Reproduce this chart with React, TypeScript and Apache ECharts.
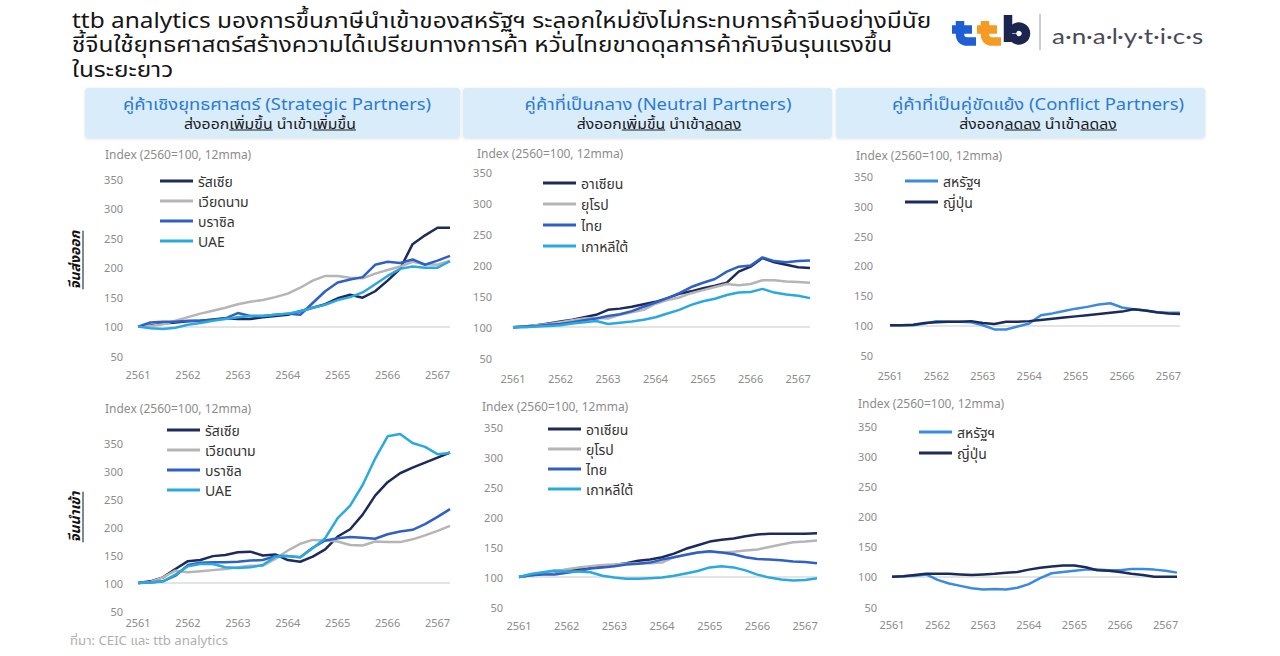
import React, { useEffect, useRef } from "react";
import * as echarts from "echarts";

// ---------- DATA ----------
const quarters = [
  "2561-Q1", "2561-Q2", "2561-Q3", "2561-Q4",
  "2562-Q1", "2562-Q2", "2562-Q3", "2562-Q4",
  "2563-Q1", "2563-Q2", "2563-Q3", "2563-Q4",
  "2564-Q1", "2564-Q2", "2564-Q3", "2564-Q4",
  "2565-Q1", "2565-Q2", "2565-Q3", "2565-Q4",
  "2566-Q1", "2566-Q2", "2566-Q3", "2566-Q4",
  "2567-Q1", "2567-Q2",
];

const strategicNames = ["รัสเซีย", "เวียดนาม", "บราซิล", "UAE"];
const neutralNames = ["อาเซียน", "ยุโรป", "ไทย", "เกาหลีใต้"];
const conflictNames = ["สหรัฐฯ", "ญี่ปุ่น"];

// China exports
const exportRussia = [100, 102, 105, 107, 109, 110, 112, 114, 113, 113, 116, 118, 120, 126, 132, 138, 148, 154, 149, 160, 178, 198, 240, 255, 268, 268];
const exportVietnam = [100, 101, 104, 110, 116, 122, 127, 132, 138, 142, 145, 150, 156, 166, 178, 186, 186, 183, 182, 190, 196, 202, 210, 206, 205, 212];
const exportBrazil = [100, 107, 108, 108, 110, 110, 111, 114, 123, 118, 118, 120, 122, 120, 140, 160, 175, 180, 184, 205, 210, 208, 214, 205, 212, 220];
const exportUAE = [100, 97, 96, 98, 103, 106, 110, 113, 116, 118, 118, 120, 122, 126, 132, 137, 145, 150, 158, 172, 186, 198, 202, 200, 200, 211];

const exportASEAN = [100, 101, 103, 106, 109, 112, 116, 120, 128, 130, 133, 137, 141, 147, 154, 158, 163, 167, 172, 190, 198, 212, 205, 201, 197, 196];
const exportEurope = [100, 101, 103, 105, 108, 111, 114, 115, 114, 120, 124, 128, 138, 144, 148, 155, 160, 165, 170, 168, 170, 176, 176, 174, 173, 172];
const exportThailand = [100, 101, 102, 104, 105, 108, 111, 114, 118, 121, 126, 133, 140, 147, 155, 165, 172, 178, 190, 198, 200, 213, 207, 205, 207, 208];
const exportKorea = [100, 100, 101, 102, 103, 106, 108, 110, 105, 107, 109, 112, 116, 122, 128, 136, 142, 146, 152, 156, 157, 162, 156, 153, 151, 147];

const exportUS = [100, 100, 100, 103, 107, 106, 106, 105, 100, 93, 93, 98, 103, 117, 120, 124, 128, 131, 135, 137, 130, 127, 125, 122, 121, 121];
const exportJapan = [100, 100, 101, 104, 105, 106, 106, 107, 104, 102, 106, 106, 107, 109, 111, 113, 115, 117, 119, 121, 123, 127, 125, 122, 120, 119];

// China imports
const importRussia = [100, 103, 110, 125, 139, 141, 148, 150, 155, 156, 149, 151, 141, 138, 147, 160, 183, 196, 222, 256, 280, 296, 306, 315, 324, 333];
const importVietnam = [100, 102, 110, 122, 119, 121, 123, 125, 128, 131, 131, 143, 158, 170, 177, 176, 174, 168, 167, 174, 173, 173, 178, 185, 193, 202];
const importBrazil = [100, 101, 103, 113, 132, 136, 137, 137, 138, 140, 141, 148, 148, 146, 163, 176, 180, 182, 181, 179, 187, 192, 195, 205, 218, 232];
const importUAE = [100, 101, 103, 115, 130, 134, 134, 128, 127, 128, 132, 147, 148, 146, 162, 180, 216, 238, 275, 322, 362, 366, 350, 343, 330, 332];

const importASEAN = [100, 103, 106, 109, 111, 113, 115, 118, 120, 123, 127, 129, 133, 139, 147, 153, 159, 162, 164, 168, 171, 172, 172, 172, 172, 173];
const importEurope = [100, 103, 106, 109, 113, 116, 118, 120, 121, 122, 123, 123, 124, 133, 137, 141, 142, 141, 142, 144, 146, 150, 154, 158, 159, 161];
const importThailand = [100, 103, 104, 104, 107, 110, 114, 116, 118, 121, 122, 124, 129, 133, 137, 141, 143, 141, 138, 133, 130, 129, 128, 126, 125, 123];
const importKorea = [100, 105, 108, 111, 109, 109, 108, 102, 99, 97, 97, 98, 99, 102, 106, 110, 116, 118, 116, 111, 104, 99, 96, 94, 95, 98];

const importUS = [100, 101, 102, 104, 95, 89, 85, 81, 79, 80, 79, 82, 88, 98, 106, 108, 110, 112, 112, 111, 111, 113, 113, 112, 110, 107];
const importJapan = [100, 101, 103, 105, 105, 105, 104, 103, 104, 105, 107, 108, 112, 115, 117, 119, 119, 116, 111, 110, 108, 105, 103, 100, 100, 100];

const titleLines = [
  "ttb analytics มองการขึ้นภาษีนำเข้าของสหรัฐฯ ระลอกใหม่ยังไม่กระทบการค้าจีนอย่างมีนัย",
  "ชี้จีนใช้ยุทธศาสตร์สร้างความได้เปรียบทางการค้า หวั่นไทยขาดดุลการค้ากับจีนรุนแรงขึ้น",
  "ในระยะยาว",
];
const headerTitles = [
  "คู่ค้าเชิงยุทธศาสตร์ (Strategic Partners)",
  "คู่ค้าที่เป็นกลาง (Neutral Partners)",
  "คู่ค้าที่เป็นคู่ขัดแย้ง (Conflict Partners)",
];
const headerSubs = [
  [["ส่งออก", false], ["เพิ่มขึ้น", true], [" นำเข้า", false], ["เพิ่มขึ้น", true]],
  [["ส่งออก", false], ["เพิ่มขึ้น", true], [" นำเข้า", false], ["ลดลง", true]],
  [["ส่งออก", false], ["ลดลง", true], [" นำเข้า", false], ["ลดลง", true]],
] as [string, boolean][][];
const indexLabel = "Index (2560=100, 12mma)";
const sideLabels = ["จีนส่งออก", "จีนนำเข้า"];
const sourceText = "ที่มา: CEIC และ ttb analytics";
const logoWord = "a·n·a·l·y·t·i·c·s";

// ---------- STYLE ----------
const NAVY = "#1c2a5c";
const GRAY = "#b5b5b5";
const BLUE = "#2e60c8";
const LIGHT = "#29a9e0";
const USBLUE = "#3a8be0";
const FONT = "'Noto Sans', 'Noto Sans Thai', Lato, sans-serif";
const AXIS_COLOR = "#8c8c8c";

const panels = [
  { grid: { left: 138, top: 150, width: 312, height: 206 }, names: strategicNames, data: [exportRussia, exportVietnam, exportBrazil, exportUAE], colors: [NAVY, GRAY, BLUE, LIGHT], legend: { left: 160, top: 174, gap: 6 }, yMargin: 15, xMargin: 13, idx: [105, 154] },
  { grid: { left: 513, top: 142, width: 297, height: 216 }, names: neutralNames, data: [exportASEAN, exportEurope, exportThailand, exportKorea], colors: [NAVY, GRAY, BLUE, LIGHT], legend: { left: 543, top: 176, gap: 7 }, yMargin: 21, xMargin: 15, idx: [477, 153] },
  { grid: { left: 890, top: 147, width: 290, height: 208 }, names: conflictNames, data: [exportUS, exportJapan], colors: [USBLUE, NAVY], legend: { left: 905, top: 174, gap: 7 }, yMargin: 17, xMargin: 15, idx: [856, 155] },
  { grid: { left: 138, top: 415, width: 312, height: 196 }, names: strategicNames, data: [importRussia, importVietnam, importBrazil, importUAE], colors: [NAVY, GRAY, BLUE, LIGHT], legend: { left: 167, top: 423, gap: 6 }, yMargin: 15, xMargin: 6, idx: [105, 408] },
  { grid: { left: 519, top: 397, width: 298, height: 210 }, names: neutralNames, data: [importASEAN, importEurope, importThailand, importKorea], colors: [NAVY, GRAY, BLUE, LIGHT], legend: { left: 548, top: 422, gap: 6 }, yMargin: 16, xMargin: 13, idx: [482, 406] },
  { grid: { left: 892, top: 396, width: 285, height: 211 }, names: conflictNames, data: [importUS, importJapan], colors: [USBLUE, NAVY], legend: { left: 919, top: 425, gap: 7 }, yMargin: 15, xMargin: 12, idx: [858, 403] },
];

const boxes = [
  { x: 85, w: 375, tc: 277, sc: 270 },
  { x: 463, w: 369, tc: 658, sc: 659 },
  { x: 836, w: 369, tc: 1038, sc: 1038 },
];

// ttb logo glyph outlines (stroked)
echarts.graphic.registerShape(
  "ttbT",
  echarts.graphic.extendPath("M0 0 L0 13 Q0 20.5 7.5 20.5 L16 20.5 M-8 8.5 L12 8.5", {})
);
echarts.graphic.registerShape(
  "ttbB",
  echarts.graphic.extendPath("M0 0 L0 27 M4 18 A7 7 0 1 1 4 19", {})
);

function buildOption() {
  const ctx = document.createElement("canvas").getContext("2d")!;
  const measure = (t: string, font: string) => {
    ctx.font = font;
    return ctx.measureText(t).width;
  };

  const grid: any[] = [];
  const xAxis: any[] = [];
  const yAxis: any[] = [];
  const legend: any[] = [];
  const series: any[] = [];
  const graphic: any[] = [];

  panels.forEach((p, pi) => {
    grid.push({ ...p.grid, containLabel: false });
    xAxis.push({
      type: "category",
      gridIndex: pi,
      data: quarters,
      boundaryGap: false,
      axisLine: { show: false },
      axisTick: { show: false },
      splitLine: { show: false },
      axisLabel: {
        interval: (i: number) => i % 4 === 0,
        formatter: (v: string) => v.slice(0, 4),
        color: AXIS_COLOR,
        fontSize: 11,
        fontFamily: FONT,
        margin: p.xMargin,
      },
    });
    yAxis.push({
      type: "value",
      gridIndex: pi,
      min: 50,
      max: 400,
      interval: 50,
      axisLine: { show: false },
      axisTick: { show: false },
      splitLine: { show: false },
      axisLabel: {
        formatter: (v: number) => (v === 400 ? "" : String(v)),
        color: AXIS_COLOR,
        fontSize: 11,
        fontFamily: FONT,
        margin: p.yMargin,
      },
    });
    legend.push({
      data: p.names,
      orient: "vertical",
      left: p.legend.left,
      top: p.legend.top,
      itemWidth: 33,
      itemHeight: 3,
      icon: "rect",
      itemGap: p.legend.gap,
      selectedMode: false,
      padding: 0,
      textStyle: { fontSize: 14, color: "#333", lineHeight: 14, fontFamily: FONT },
    });
    p.names.forEach((name, si) => {
      series.push({
        type: "line",
        name,
        xAxisIndex: pi,
        yAxisIndex: pi,
        data: p.data[si],
        showSymbol: false,
        symbol: "none",
        silent: true,
        lineStyle: { width: 2.5, color: p.colors[si] },
        itemStyle: { color: p.colors[si] },
        z: 3,
        markLine:
          si === 0
            ? {
                silent: true,
                symbol: "none",
                label: { show: false },
                lineStyle: { color: "#e4e4e4", width: 2, type: "solid" },
                data: [{ yAxis: 100 }],
                z: 1,
              }
            : undefined,
      });
    });
    graphic.push({
      type: "text",
      x: p.idx[0],
      y: p.idx[1],
      style: { text: indexLabel, fill: AXIS_COLOR, fontSize: 12, fontFamily: FONT, align: "left", verticalAlign: "middle" },
    });
  });

  // Title
  titleLines.forEach((t, i) => {
    graphic.push({
      type: "text",
      x: 72,
      y: 19 + i * 24.5,
      scaleX: 1.11,
      style: { text: t, fill: "#151515", fontSize: 22, fontFamily: FONT, align: "left", verticalAlign: "middle" },
    });
  });

  // Logo
  graphic.push({ type: "ttbT", x: 960, y: 21, style: { fill: "none", stroke: "#1f5fd6", lineWidth: 8.5 } });
  graphic.push({ type: "ttbT", x: 985, y: 21, style: { fill: "none", stroke: "#f59a23", lineWidth: 8.5 } });
  graphic.push({ type: "ttbB", x: 1008, y: 15, style: { fill: "none", stroke: "#1b2550", lineWidth: 8.5 } });
  graphic.push({ type: "line", shape: { x1: 1040, y1: 14, x2: 1040, y2: 50 }, style: { stroke: "#9a9a9a", lineWidth: 1 } });
  graphic.push({
    type: "text",
    x: 1052,
    y: 35,
    scaleX: 1.18,
    style: { text: logoWord, fill: "#4a4a58", fontSize: 22, fontFamily: "Lato, " + FONT, align: "left", verticalAlign: "middle" },
  });

  // Header boxes
  boxes.forEach((b, i) => {
    graphic.push({
      type: "rect",
      shape: { x: b.x, y: 88, width: b.w, height: 50, r: 3 },
      style: { fill: "#d9ecfa", shadowBlur: 3, shadowColor: "rgba(0,0,0,0.12)", shadowOffsetY: 1 },
      z: 0,
    });
    graphic.push({
      type: "text",
      x: b.tc,
      y: 104,
      scaleX: 1.15,
      style: { text: headerTitles[i], fill: "#2b7ad6", fontSize: 16, fontFamily: FONT, align: "center", verticalAlign: "middle" },
      z: 1,
    });
    const SUB_SIZE = 14;
    const SUB_SCALE = 1.13;
    const subFont = `${SUB_SIZE}px ${FONT}`;
    const segs = headerSubs[i];
    const total = segs.reduce((s, [t]) => s + measure(t, subFont) * SUB_SCALE, 0);
    let cx = b.sc - total / 2;
    segs.forEach(([t, u]) => {
      const w = measure(t, subFont) * SUB_SCALE;
      graphic.push({
        type: "text",
        x: cx,
        y: 123,
        scaleX: SUB_SCALE,
        style: { text: t, fill: "#1a1a1a", fontSize: SUB_SIZE, fontFamily: FONT, align: "left", verticalAlign: "middle" },
        z: 1,
      });
      if (u) {
        graphic.push({ type: "line", shape: { x1: cx, y1: 130, x2: cx + w, y2: 130 }, style: { stroke: "#1a1a1a", lineWidth: 1 }, z: 1 });
      }
      cx += w;
    });
  });

  // Side labels
  const sideY = [260, 517];
  sideLabels.forEach((t, i) => {
    const w = measure(t, `italic bold 14px ${FONT}`);
    graphic.push({
      type: "text",
      x: 74,
      y: sideY[i],
      rotation: Math.PI / 2,
      style: { text: t, fill: "#111", fontSize: 14, fontStyle: "italic", fontWeight: "bold", fontFamily: FONT, align: "center", verticalAlign: "middle" },
    });
    graphic.push({ type: "line", shape: { x1: 83, y1: sideY[i] - w / 2, x2: 83, y2: sideY[i] + w / 2 }, style: { stroke: "#111", lineWidth: 1 } });
  });

  // Source
  graphic.push({
    type: "text",
    x: 70,
    y: 641,
    scaleX: 1.1,
    style: { text: sourceText, fill: "#b0b0b0", fontSize: 12, fontFamily: FONT, align: "left", verticalAlign: "middle" },
  });

  return {
    animation: false,
    backgroundColor: "#ffffff",
    textStyle: { fontFamily: FONT },
    grid,
    xAxis,
    yAxis,
    legend,
    series,
    graphic,
  };
}

export default function App() {
  const ref = useRef<HTMLDivElement>(null);
  useEffect(() => {
    if (!ref.current) return;
    const chart = echarts.init(ref.current, undefined, { renderer: "svg" });
    chart.setOption(buildOption() as any);
    return () => chart.dispose();
  }, []);
  return (
    <div
      ref={ref}
      style={{ position: "absolute", left: 0, top: 0, width: 1280, height: 656, background: "#fff" }}
    />
  );
}
